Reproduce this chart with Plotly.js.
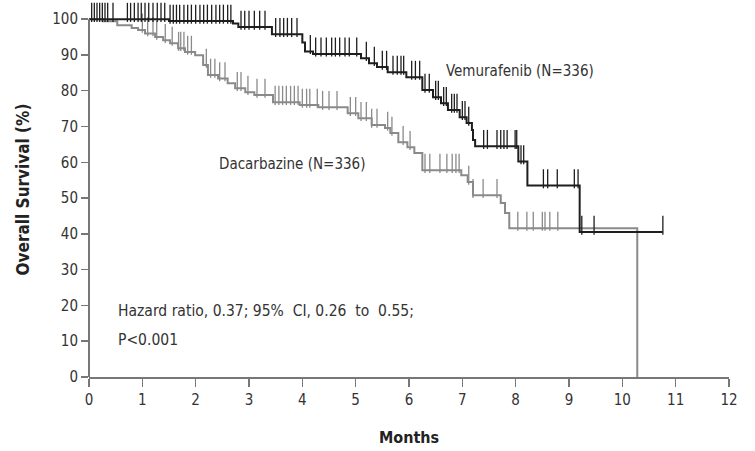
<!DOCTYPE html>
<html>
<head>
<meta charset="utf-8">
<script src="https://cdn.plot.ly/plotly-3.0.1.min.js"></script>
<style>html,body{margin:0;padding:0;background:#fff;}#chart{width:755px;height:451px;}</style>
</head>
<body>
<div id="chart"></div>
<script>
// Kaplan-Meier step data (months, overall survival %)
const vemTime = [0, 1.5, 2.7, 2.8, 3.43, 4.0, 4.05, 4.2, 5.1, 5.25, 5.4, 5.6, 5.95, 6.25, 6.45, 6.6, 6.73, 6.95, 7.08, 7.18, 7.2, 7.24, 8.05, 8.22, 9.2, 10.76];
const vemSurv = [100, 99.5, 98.8, 97.8, 95.8, 93.5, 91.0, 90.3, 89.1, 87.7, 86.6, 85.2, 83.8, 80.2, 78.2, 76.5, 74.6, 72.6, 71.0, 69.0, 66.2, 64.5, 60.2, 53.5, 40.5, 40.5];
const dacTime = [0, 0.26, 0.53, 0.8, 0.92, 1.05, 1.24, 1.39, 1.52, 1.67, 1.8, 1.99, 2.14, 2.23, 2.42, 2.6, 2.74, 2.93, 3.1, 3.45, 3.95, 4.3, 4.85, 5.05, 5.3, 5.55, 5.65, 5.8, 5.97, 6.1, 6.25, 6.98, 7.1, 7.2, 7.72, 7.8, 7.88, 10.28, 10.28];
const dacSurv = [100, 99.4, 98.3, 97.5, 97.0, 96.0, 95.0, 94.1, 93.3, 91.9, 90.8, 89.9, 87.2, 84.4, 83.4, 82.1, 80.7, 79.6, 78.8, 76.8, 76.0, 75.4, 73.7, 72.3, 70.4, 69.6, 68.2, 65.6, 64.2, 62.6, 57.8, 56.4, 54.5, 50.8, 48.6, 45.8, 41.6, 41.6, 0];
// Censoring times (months)
const vemCensor = [0.05, 0.1, 0.15, 0.2, 0.25, 0.3, 0.35, 0.45, 0.72, 0.78, 0.85, 0.92, 0.98, 1.05, 1.12, 1.2, 1.28, 1.35, 1.42, 1.52, 1.58, 1.64, 1.7, 1.78, 1.85, 1.92, 2.0, 2.08, 2.15, 2.22, 2.3, 2.38, 2.45, 2.52, 2.6, 2.66, 2.85, 2.92, 3.0, 3.1, 3.2, 3.3, 3.5, 3.58, 3.65, 3.72, 3.8, 3.9, 4.15, 4.25, 4.35, 4.45, 4.55, 4.62, 4.7, 4.8, 4.88, 5.02, 5.2, 5.35, 5.5, 5.58, 5.7, 5.78, 5.85, 5.9, 6.05, 6.12, 6.2, 6.3, 6.38, 6.5, 6.55, 6.65, 6.7, 6.8, 6.85, 6.9, 7.0, 7.05, 7.12, 7.4, 7.47, 7.65, 7.72, 7.78, 7.84, 7.99, 8.02, 8.1, 8.15, 8.52, 8.6, 8.78, 9.1, 9.17, 9.24, 9.47, 10.76];
const dacCensor = [1.0, 1.1, 1.2, 1.27, 1.43, 1.56, 1.68, 1.72, 1.78, 1.85, 1.92, 2.2, 2.28, 2.36, 2.45, 2.55, 2.78, 2.85, 2.98, 3.15, 3.3, 3.49, 3.56, 3.63, 3.7, 3.78, 3.85, 3.92, 4.0, 4.08, 4.14, 4.28, 4.38, 4.5, 4.65, 4.9, 5.0, 5.1, 5.2, 5.3, 5.4, 5.6, 5.68, 5.89, 6.02, 6.3, 6.39, 6.58, 6.71, 6.81, 6.88, 6.94, 7.12, 7.2, 7.39, 7.65, 8.04, 8.21, 8.33, 8.5, 8.55, 8.64, 8.79];
const xTicks = [0,1,2,3,4,5,6,7,8,9,10,11,12];
const yTicks = [0,10,20,30,40,50,60,70,80,90,100];

function stepAt(times, vals, t) {
  let v = vals[0];
  for (let i = 0; i < times.length; i++) { if (times[i] <= t) v = vals[i]; else break; }
  return v;
}

const FONT = "'Liberation Sans Narrow', 'DejaVu Sans Condensed', 'Roboto Condensed', sans-serif";
const BLACK = '#1e1e1e';
const GREY = '#8a8a8a';
const AXIS = '#777';
const TICK_H = 3.8;   // censor tick height in % units

function censorTrace(times, sTimes, sVals, color) {
  return {
    x: times, y: times.map(t => stepAt(sTimes, sVals, t) + TICK_H / 2),
    type: 'scatter', mode: 'markers', cliponaxis: false, hoverinfo: 'skip',
    marker: {symbol: 'line-ns', size: 13.6, color: color, line: {color: color, width: 1.3}},
    showlegend: false
  };
}

const traces = [
  {x: dacTime, y: dacSurv, type: 'scatter', mode: 'lines', line: {shape: 'hv', color: GREY, width: 2}, cliponaxis: false, showlegend: false},
  censorTrace(dacCensor, dacTime, dacSurv, GREY),
  {x: vemTime, y: vemSurv, type: 'scatter', mode: 'lines', line: {shape: 'hv', color: BLACK, width: 2}, cliponaxis: false, showlegend: false},
  censorTrace(vemCensor, vemTime, vemSurv, BLACK)
];

const yMax = yTicks[yTicks.length - 1];

const layout = {
  width: 755, height: 451,
  margin: {l: 89, r: 26, t: 2, b: 74},
  paper_bgcolor: '#fff', plot_bgcolor: '#fff',
  font: {family: FONT, color: '#333', size: 14},
  xaxis: {
    range: [0, 12], tickvals: xTicks, ticktext: xTicks.map(String),
    showgrid: false, zeroline: false, showline: true, linecolor: AXIS, linewidth: 2,
    ticks: 'outside', ticklen: 8, tickwidth: 1.5, tickcolor: AXIS,
    tickfont: {family: FONT, size: 15, color: '#333'},
    title: {text: '<b>Months</b>', font: {family: FONT, size: 16, color: '#222'}, standoff: 24}
  },
  yaxis: {
    range: [0, 104.8], tickvals: yTicks, ticktext: yTicks.map(String),
    showgrid: false, zeroline: false, showline: false,
    ticks: 'outside', ticklen: 7, tickwidth: 1.5, tickcolor: AXIS,
    tickfont: {family: FONT, size: 15, color: '#333'},
    title: {text: '<b>Overall Survival (%)</b>', font: {family: FONT, size: 17, color: '#222'}, standoff: 18}
  },
  shapes: [
    // y-axis line, drawn only up to the top tick (100)
    {type: 'line', xref: 'paper', yref: 'y', x0: 0, x1: 0, y0: 0, y1: yMax, line: {color: AXIS, width: 2}, layer: 'above'}
  ],
  annotations: [
    {x: 6.65, y: 85.4, xref: 'x', yref: 'y', text: 'Vemurafenib (N=336)', showarrow: false, xanchor: 'left', yanchor: 'middle', font: {family: FONT, size: 15, color: '#333'}},
    {x: 2.4, y: 59.5, xref: 'x', yref: 'y', text: 'Dacarbazine (N=336)', showarrow: false, xanchor: 'left', yanchor: 'middle', font: {family: FONT, size: 15, color: '#333'}},
    {x: 0.5, y: 18.4, xref: 'x', yref: 'y', text: 'Hazard ratio, 0.37; 95%&nbsp;&nbsp;CI, 0.26&nbsp;&nbsp;to&nbsp;&nbsp;0.55;', showarrow: false, xanchor: 'left', yanchor: 'middle', font: {family: FONT, size: 15.5, color: '#333'}},
    {x: 0.5, y: 10.3, xref: 'x', yref: 'y', text: 'P<0.001', showarrow: false, xanchor: 'left', yanchor: 'middle', font: {family: FONT, size: 15.5, color: '#333'}}
  ]
};

Plotly.newPlot('chart', traces, layout, {displayModeBar: false, staticPlot: true});
</script>
</body>
</html>
